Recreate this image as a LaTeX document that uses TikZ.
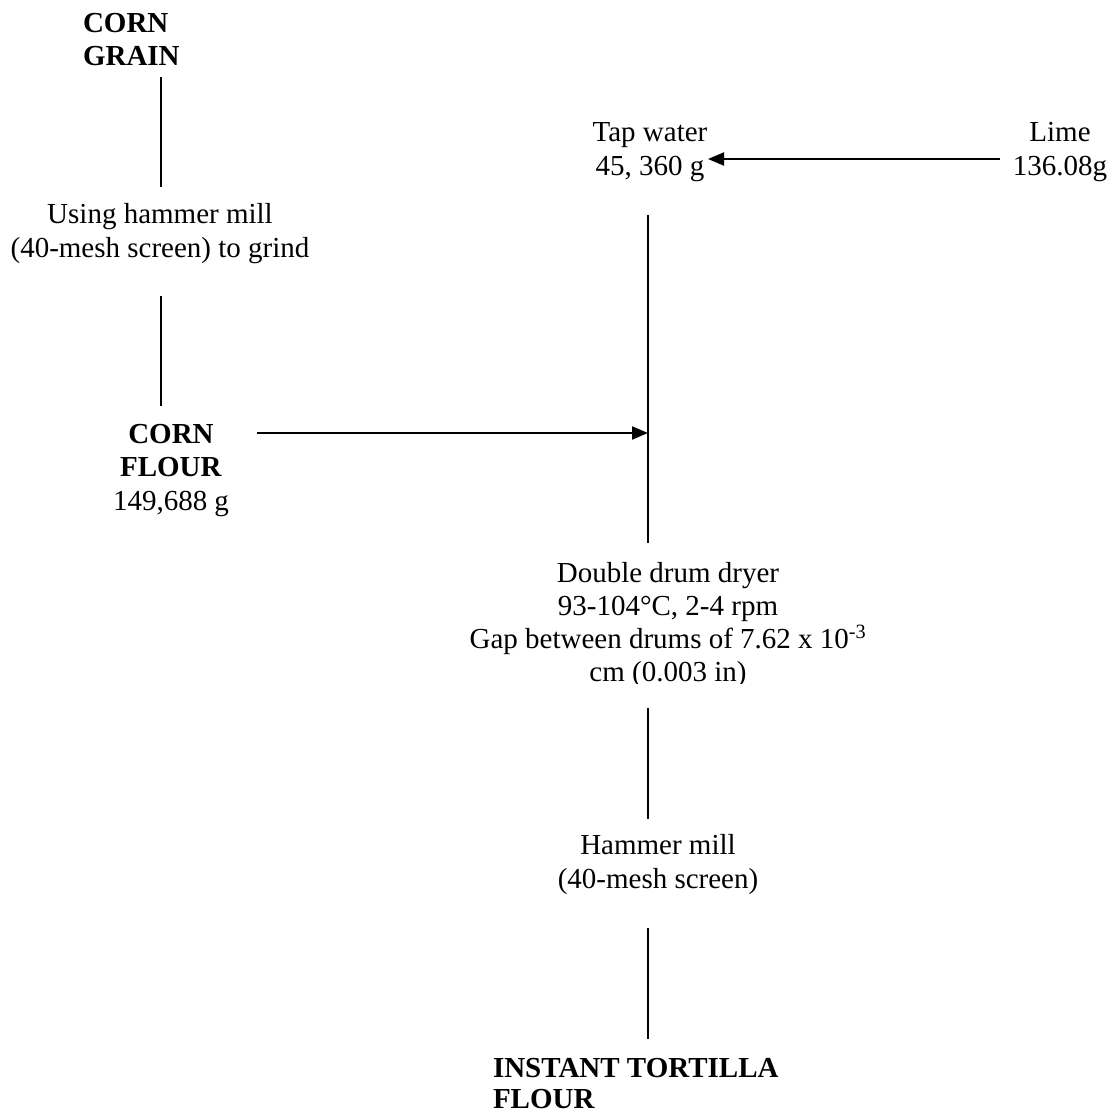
\documentclass[tikz,border=0pt]{standalone}
\usepackage{fontspec}
\setmainfont{Liberation Serif}
\usetikzlibrary{arrows.meta}
\begin{document}
\begin{tikzpicture}[x=1pt,y=-1pt,
  lbl/.style={inner sep=0pt, outer sep=0pt, align=center, anchor=base,
    font=\fontsize{29}{33.5}\selectfont},
  lblL/.style={lbl, align=left, anchor=base west},
  conn/.style={line width=2pt},
  flow/.style={conn, -{Triangle[length=16pt,width=13pt]}}]
\useasboundingbox (0,0) rectangle (1114,1116);
% text nodes (anchor = baseline of the last line)
\node[lblL, font=\fontsize{29}{33}\selectfont\bfseries] (grain) at (83,66) {CORN\\GRAIN};
\node[lbl] (grind) at (160,257) {Using hammer mill\\(40-mesh screen) to grind};
\node[lbl] (flour) at (171,510) {\textbf{CORN}\\\textbf{FLOUR}\\149,688 g};
\node[lbl] (tap) at (650,175) {Tap water\\45, 360 g};
\node[lbl] (lime) at (1060,175) {Lime\\136.08g};
\begin{scope}
\clip (400,540) rectangle (950,683);
\node[lbl, font=\fontsize{29}{33}\selectfont] (dryer) at (668,681) {Double drum dryer\\93-104°C, 2-4 rpm\\Gap between drums of 7.62 x 10\textsuperscript{-3}\\cm (0.003 in)};
\end{scope}
\node[lbl] (mill) at (658,888) {Hammer mill\\(40-mesh screen)};
\node[lblL, font=\fontsize{29}{31}\selectfont\bfseries] (product) at (493,1108) {INSTANT TORTILLA\\FLOUR};
% connector end points
\coordinate (c1a) at (161,77);
\coordinate (c1b) at (161,187);
\coordinate (c2a) at (161,296);
\coordinate (c2b) at (161,406);
\coordinate (c3a) at (257,433);
\coordinate (mainTop) at (648,215);
\coordinate (join) at (648,433);
\coordinate (mainBot) at (648,543);
\coordinate (c4a) at (1000,159);
\coordinate (c4b) at (708,159);
\coordinate (c5a) at (648,708);
\coordinate (c5b) at (648,819);
\coordinate (c6a) at (648,928);
\coordinate (c6b) at (648,1039);
% connectors
\draw[conn] (c1a) -- (c1b);
\draw[conn] (c2a) -- (c2b);
\draw[flow] (c3a) -- (join);
\draw[conn] (mainTop) -- (mainBot);
\draw[flow] (c4a) -- (c4b);
\draw[conn] (c5a) -- (c5b);
\draw[conn] (c6a) -- (c6b);
\end{tikzpicture}
\end{document}
